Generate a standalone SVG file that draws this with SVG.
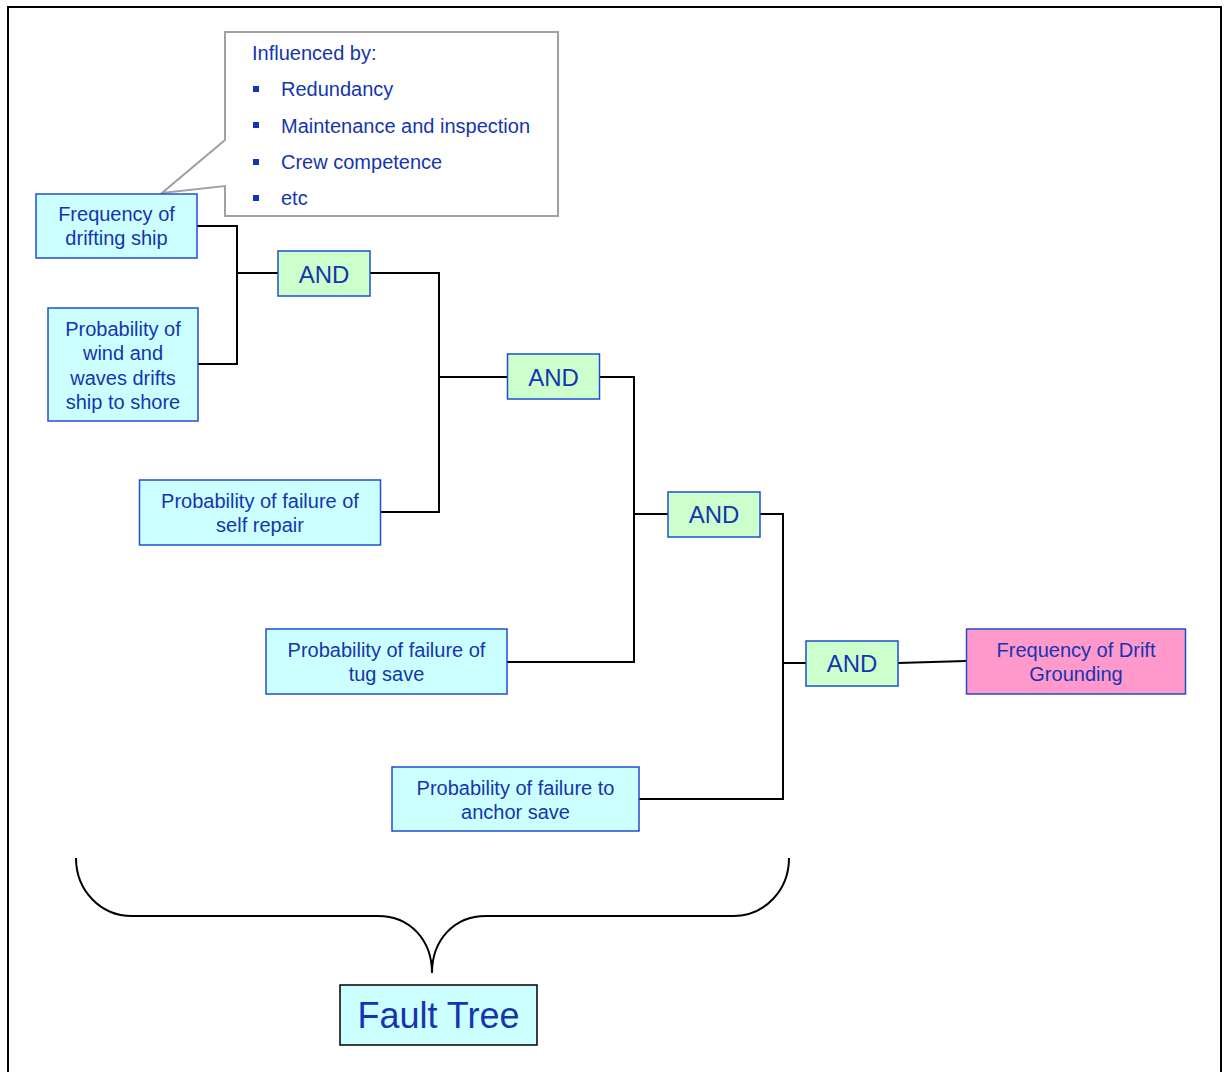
<svg xmlns="http://www.w3.org/2000/svg" width="1224" height="1072" viewBox="0 0 1224 1072">
<style>
text{font-family:"Liberation Sans",Arial,sans-serif;fill:#1535B0;text-anchor:middle}
.t{font-size:20px}
.g{font-size:24px}
.c{fill:#CCFFFF;stroke:#1F4FCF;stroke-width:1.5}
.a{fill:#CCFFCC;stroke:#1F4FCF;stroke-width:1.5}
.p{fill:#FF99CC;stroke:#1F4FCF;stroke-width:1.5}
.w{fill:none;stroke:#000;stroke-width:2}
.l{text-anchor:start;font-size:20px}
.b{fill:#1535B0}
</style>
<rect x="0" y="0" width="1224" height="1072" fill="#fff"/>
<rect x="8" y="7" width="1213" height="1080" fill="none" stroke="#000" stroke-width="2"/>

<g id="callout">
<path d="M225,32 H558 V216 H225 V186 L162,193 L225,140 Z" fill="#fff" stroke="#A0A0A0" stroke-width="2"/>
<text class="l" x="252" y="60">Influenced by:</text>
<rect class="b" x="253" y="86" width="6" height="6"/>
<text class="l" x="281" y="96">Redundancy</text>
<rect class="b" x="253" y="122" width="6" height="6"/>
<text class="l" x="281" y="133">Maintenance and inspection</text>
<rect class="b" x="253" y="159" width="6" height="6"/>
<text class="l" x="281" y="169">Crew competence</text>
<rect class="b" x="253" y="195" width="6" height="6"/>
<text class="l" x="281" y="205">etc</text>
</g>

<g id="connectors">
<path class="w" d="M197,226 H237 V364 H197 M237,273 H278"/>
<path class="w" d="M370,273 H439 V512 H381 M439,377 H507"/>
<path class="w" d="M600,377 H634 V662 H507 M634,514 H668"/>
<path class="w" d="M760,514 H783 V799 H639 M783,663 H806"/>
<path class="w" d="M898,663 L966,661"/>
<path class="w" d="M76,858 C76,890 100,916 132,916 H378 C410,916 432,940 432,973 C432,940 454,916 486,916 H733 C765,916 789,890 789,858"/>
</g>

<g id="freq-drifting">
<rect class="c" x="36" y="194" width="161" height="64"/>
<text class="t" x="116.5" y="221">Frequency of</text>
<text class="t" x="116.5" y="245">drifting ship</text>
</g>
<g id="prob-wind">
<rect class="c" x="48" y="308" width="150" height="113"/>
<text class="t" x="123" y="336">Probability of</text>
<text class="t" x="123" y="360">wind and</text>
<text class="t" x="123" y="384.5">waves drifts</text>
<text class="t" x="123" y="409">ship to shore</text>
</g>
<g id="and1">
<rect class="a" x="278" y="251" width="92" height="45"/>
<text class="g" x="324" y="282.5">AND</text>
</g>
<g id="self-repair">
<rect class="c" x="139.5" y="480" width="241" height="65"/>
<text class="t" x="260" y="508">Probability of failure of</text>
<text class="t" x="260" y="532">self repair</text>
</g>
<g id="and2">
<rect class="a" x="507.5" y="354" width="92" height="45"/>
<text class="g" x="553.5" y="385.5">AND</text>
</g>
<g id="tug-save">
<rect class="c" x="266" y="629" width="241" height="65"/>
<text class="t" x="386.5" y="657">Probability of failure of</text>
<text class="t" x="386.5" y="681">tug save</text>
</g>
<g id="and3">
<rect class="a" x="668" y="492" width="92" height="45"/>
<text class="g" x="714" y="523">AND</text>
</g>
<g id="anchor-save">
<rect class="c" x="392" y="767" width="247" height="64"/>
<text class="t" x="515.5" y="795">Probability of failure to</text>
<text class="t" x="515.5" y="819">anchor save</text>
</g>
<g id="and4">
<rect class="a" x="806" y="641" width="92" height="45"/>
<text class="g" x="852" y="672">AND</text>
</g>
<g id="drift-grounding">
<rect class="p" x="966.5" y="629" width="219" height="65"/>
<text class="t" x="1076" y="657">Frequency of Drift</text>
<text class="t" x="1076" y="681">Grounding</text>
</g>
<g id="fault-tree">
<rect x="340" y="985" width="197" height="60" fill="#CCFFFF" stroke="#000" stroke-width="1.5"/>
<text x="438.5" y="1028" style="font-size:36px">Fault Tree</text>
</g>
</svg>
